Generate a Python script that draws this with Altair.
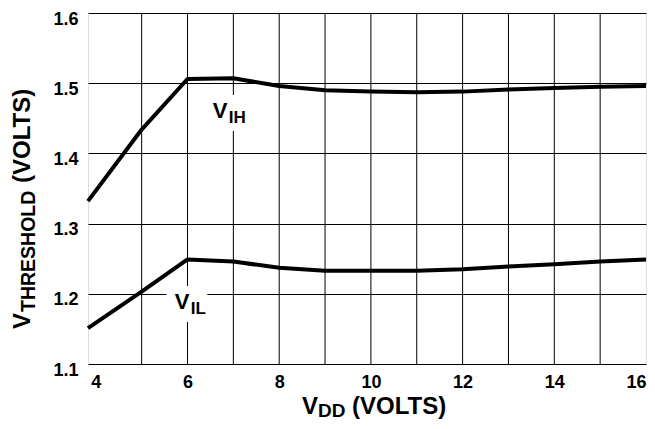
import altair as alt
import pandas as pd

# ---- data ----
vdd = [3.83, 5, 6, 7, 8, 9, 10, 11, 12, 13, 14, 15, 16]
vih = [1.332, 1.434, 1.506, 1.507, 1.496, 1.490, 1.488, 1.487, 1.488, 1.491, 1.493, 1.495, 1.496]
vil = [1.151, 1.203, 1.249, 1.246, 1.237, 1.233, 1.233, 1.233, 1.235, 1.239, 1.242, 1.246, 1.249]

x_ticks = [4, 6, 8, 10, 12, 14, 16]
x_grid = [5, 6, 7, 8, 9, 10, 11, 12, 13, 14, 15]
y_ticks = [1.1, 1.2, 1.3, 1.4, 1.5, 1.6]

series_labels = ["V", "V"]
series_subs = ["IH", "IL"]
label_x = [6.55, 5.72]
label_y = [1.451, 1.179]

FONT = "Liberation Sans"

df = pd.DataFrame(
    {"vdd": vdd * 2, "v": vih + vil, "series": ["VIH"] * len(vdd) + ["VIL"] * len(vdd)}
)
grid_df = pd.DataFrame({"g": x_grid})
lab_df = pd.DataFrame({"x": label_x, "y": label_y, "t": series_labels, "s": series_subs})

xscale = alt.Scale(domain=[3.83, 16], nice=False, zero=False)
yscale = alt.Scale(domain=[1.1, 1.6], nice=False, zero=False)

xaxis = alt.Axis(values=x_ticks, title=None, grid=False, ticks=False, domain=False,
                 labelFont=FONT, labelFontWeight="bold", labelFontSize=18,
                 labelColor="black", labelPadding=9, labelFlush=1)
yaxis = alt.Axis(values=y_ticks, title=None, grid=True, gridColor="black", format=".1f",
                 gridOpacity=1, gridWidth=1, ticks=False, domain=False,
                 labelFont=FONT, labelFontWeight="bold", labelFontSize=18,
                 labelColor="black", labelPadding=10, labelBaseline="top",
                 labelOffset=-3)

vgrid = alt.Chart(grid_df).mark_rule(color="black", strokeWidth=1).encode(
    x=alt.X("g:Q", scale=xscale, axis=xaxis)
)

lines = alt.Chart(df).mark_line(strokeWidth=4, color="black", strokeJoin="round").encode(
    x=alt.X("vdd:Q", scale=xscale, axis=xaxis),
    y=alt.Y("v:Q", scale=yscale, axis=yaxis),
    detail="series:N",
)

def lab(field, size, dx=0, dy=0, halo=False):
    kw = dict(font=FONT, fontWeight="bold", fontSize=size, align="left",
              baseline="alphabetic", dx=dx, dy=dy)
    if halo:
        kw.update(stroke="white", strokeWidth=16, fill="white")
    else:
        kw.update(color="black")
    return alt.Chart(lab_df).mark_text(**kw).encode(
        x=alt.X("x:Q", scale=xscale), y=alt.Y("y:Q", scale=yscale), text=f"{field}:N"
    )

labels = (lab("t", 22, halo=True) + lab("s", 17, 16, 5, halo=True)
          + lab("t", 22) + lab("s", 17, 16, 5))

# axis titles with subscripts
def t(text, x, y, size, angle=0):
    return alt.Chart(pd.DataFrame({"t": [text]})).mark_text(
        font=FONT, fontWeight="bold", fontSize=size, align="left",
        baseline="alphabetic", angle=angle, color="black"
    ).encode(x=alt.value(x), y=alt.value(y), text="t:N")

xt = t("V", 214, 401, 24) + t("DD", 230, 404, 19) + t("(VOLTS)", 264, 401, 24)
yt = (t("V", -58, 316, 24, 270) + t("THRESHOLD", -53, 299, 19.5, 270)
      + t("(VOLTS)", -58, 170, 24, 270))

chart = alt.layer(vgrid, lines, labels, xt, yt).properties(
    width=558, height=351,
    autosize=alt.AutoSizeParams(type="none"),
    padding={"left": 80, "top": 5, "right": 1, "bottom": 57},
).configure_view(stroke="black", strokeWidth=3).configure(background="white")

chart.save("out.html", embed_options={"renderer": "svg", "actions": False})
